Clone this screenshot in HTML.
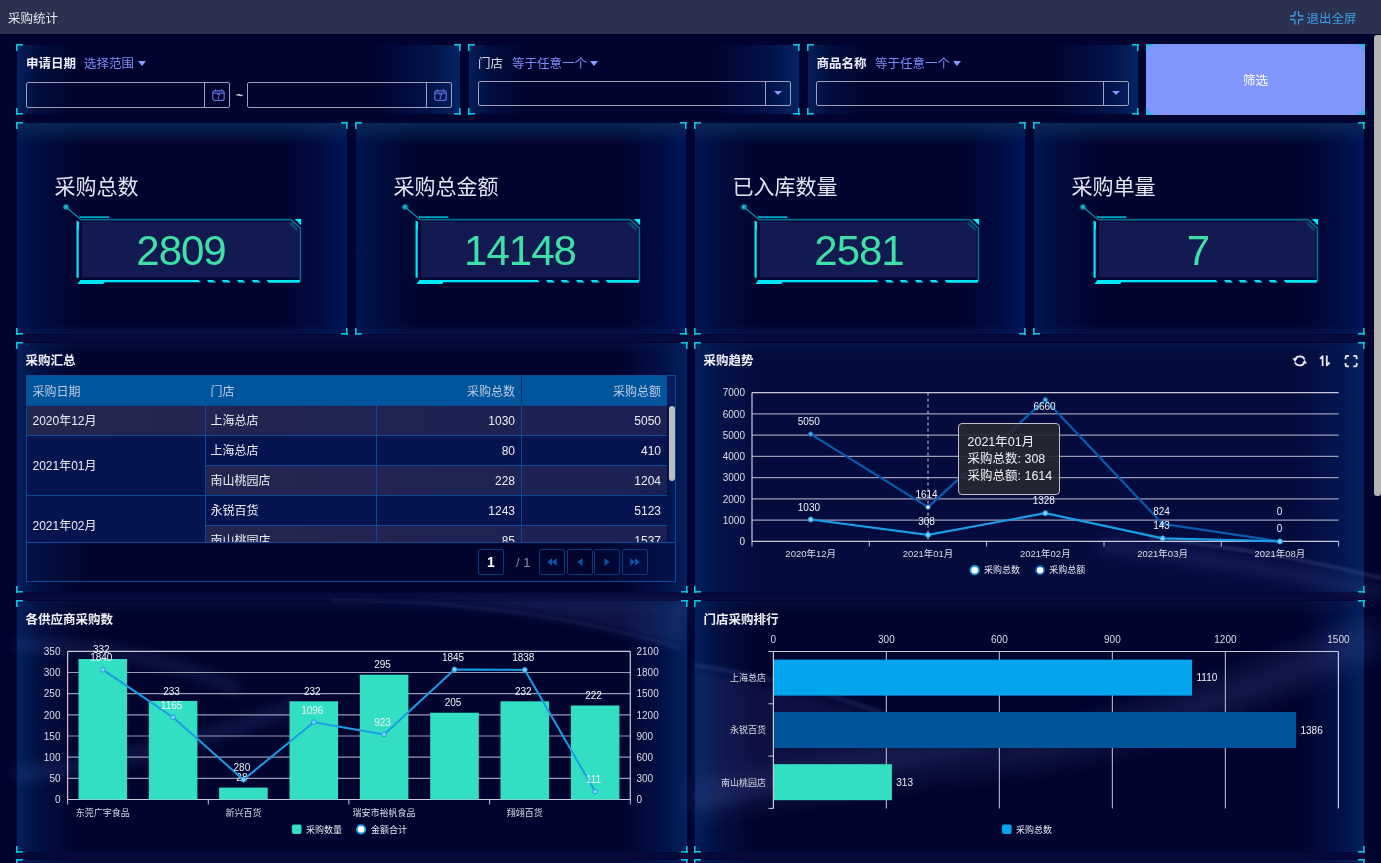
<!DOCTYPE html>
<html><head><meta charset="utf-8">
<style>
*{margin:0;padding:0;box-sizing:border-box}
html,body{width:1381px;height:863px;overflow:hidden;background:#01042f;font-family:"Liberation Sans","Noto Sans CJK SC",sans-serif;color:#fff}
.abs{position:absolute}
#hdr{position:absolute;left:0;top:0;width:1381px;height:34px;background:#2c3150}
#hdr .t{position:absolute;left:8px;top:10.5px;font-size:12.5px;line-height:16px;color:#e8e8f0}
#hdr .exit{position:absolute;left:1306.5px;top:10.5px;font-size:12.5px;line-height:16px;color:#3d9ee8}
#bgfx{position:absolute;left:0;top:34px;width:1381px;height:829px;overflow:hidden}
.panel{position:absolute;background:linear-gradient(180deg,rgba(10,42,88,.95) 0,rgba(10,42,88,0) 22px),linear-gradient(0deg,rgba(8,30,90,.6) 0,rgba(8,30,90,0) 10px),linear-gradient(90deg,#001752 0,rgba(0,23,82,.45) 25px,rgba(0,23,82,0) 65px),linear-gradient(270deg,#00165e 0,rgba(0,22,94,.45) 25px,rgba(0,22,94,0) 65px),#01042f}
.panel.pf{background:linear-gradient(90deg,#04205e 0,rgba(2,26,80,.5) 20px,rgba(2,20,70,0) 60px),linear-gradient(270deg,#052566 0,rgba(3,30,96,.55) 30px,rgba(3,25,90,0) 90px),#01042e}
.panel.pc{background:linear-gradient(180deg,rgba(10,34,90,.3) 0,rgba(10,34,90,0) 14px),linear-gradient(90deg,#02205e 0,rgba(2,28,86,.5) 22px,rgba(2,23,82,0) 60px),linear-gradient(270deg,#03225e 0,rgba(3,30,96,.5) 25px,rgba(3,22,94,0) 65px),#01042e}
.panel.pc.lt{background-color:#040c3e}
.c{position:absolute;width:7px;height:7px;--k:#0ac4de}
.c.tl{left:0;top:0;background:linear-gradient(var(--k),var(--k)) 0 0/7px 1.6px no-repeat,linear-gradient(var(--k),var(--k)) 0 0/1.6px 7px no-repeat}
.c.tr{right:0;top:0;background:linear-gradient(var(--k),var(--k)) 0 0/7px 1.6px no-repeat,linear-gradient(var(--k),var(--k)) 100% 0/1.6px 7px no-repeat}
.c.bl{left:0;bottom:0;background:linear-gradient(var(--k),var(--k)) 0 100%/7px 1.6px no-repeat,linear-gradient(var(--k),var(--k)) 0 0/1.6px 7px no-repeat}
.c.br{right:0;bottom:0;background:linear-gradient(var(--k),var(--k)) 0 100%/7px 1.6px no-repeat,linear-gradient(var(--k),var(--k)) 100% 0/1.6px 7px no-repeat}
.lbl{position:absolute;font-size:12.5px;line-height:16px;font-weight:bold;color:#eef}
.sel{position:absolute;font-size:12.5px;line-height:16px;color:#7d8cf5}
.tri{display:inline-block;width:0;height:0;border-left:4.6px solid transparent;border-right:4.6px solid transparent;border-top:5.2px solid #8a9aff;vertical-align:middle;margin-left:4px;position:relative;top:-1px}
.inp{position:absolute;height:26px;border:1.5px solid #a0a0b8;border-radius:2px}
.inp .ddt{position:absolute;left:294.5px;top:8.5px;width:0;height:0;border-left:4.2px solid transparent;border-right:4.2px solid transparent;border-top:4.5px solid #8a96ff}
.inp .dv{position:absolute;top:0;bottom:0;width:1px;background:#a0a0b8}
.kt{position:absolute;font-size:21px;line-height:24px;color:#e4e4ee}
.kn{position:absolute;font-size:42px;line-height:44px;color:#3ee0a6;text-align:center;letter-spacing:-1px}
.ptitle{position:absolute;font-size:12.5px;line-height:17px;font-weight:bold;color:#f0f0f8}
#tbl{position:absolute;left:10px;top:33px;width:650px;height:207px;border:1px solid #0a4a96;overflow:hidden;font-size:12px}
#tbl .th{position:absolute;top:0;height:29px;background:#00559c}
#tbl .thg{position:absolute;left:640px;top:0;width:10px;height:29px;background:#0a1a5a}
#tbl .tht{position:absolute;top:7.5px;line-height:16px;color:#bfcce4}
#tbl .r{text-align:right}
#tbl .row{position:absolute;left:0;width:640px;height:30px}
#tbl .row.l{background:linear-gradient(90deg,#24264f,#1c2154)}
#tbl .row.d{background:#06154f}
#tbl .hl{position:absolute;height:1px;background:#0a4a96}
#tbl .vl{position:absolute;width:1px;background:#0a4a96}
#tbl .td{position:absolute;line-height:30px;color:#ecedf4}
#tbl .tsb{position:absolute;left:642px;top:30px;width:6px;height:75px;background:#bdbdbd;border-radius:3px}
#tbl .pg{position:absolute;left:0;top:166px;width:650px;height:40px;border-top:1px solid #0a4a96;background:linear-gradient(90deg,rgba(4,30,90,.55) 0,rgba(4,30,90,0) 70px),linear-gradient(270deg,rgba(4,30,100,.55) 0,rgba(4,30,100,0) 90px),#01042c}
#tbl .pbox{position:absolute;top:6px;width:26px;height:26px;border:1px solid #0c3a80;border-radius:2px;display:flex;align-items:center;justify-content:center;line-height:16px}
.panel>*{z-index:2}
.panel{box-shadow:inset 0 0 0 1px #020532}
#sb{position:absolute;left:1374px;top:35px;width:7px;height:461px;background:#b4b4b4;border-radius:3px 0 3px 3px}
</style></head><body>
<div class="abs" style="left:16px;top:335px;width:1349px;height:7px;background:#050b3c"></div>
<div class="abs" style="left:16px;top:593px;width:1349px;height:7px;background:#050a3a"></div>
<div class="abs" style="left:16px;top:853px;width:1349px;height:6px;background:#050a3a"></div>
<div id="hdr"><div class="t">采购统计</div><svg width="14" height="14" viewBox="0 0 14 14" style="position:absolute;left:1289.5px;top:10.5px" fill="none" stroke="#3d9be6" stroke-width="1.3"><path d="M0,5 H3 Q5,5 5,3 V0"/><path d="M13.5,5 H10.5 Q8.5,5 8.5,3 V0"/><path d="M0,8.5 H3 Q5,8.5 5,10.5 V13.5"/><path d="M13.5,8.5 H10.5 Q8.5,8.5 8.5,10.5 V13.5"/></svg><div class="exit">退出全屏</div></div>

<!-- filter row -->
<div class="panel pf" style="left:16px;top:44px;width:445px;height:71px">
  <div class="c tl"></div><div class="c tr"></div><div class="c bl"></div><div class="c br"></div>
  <div class="lbl" style="left:10px;top:11.5px">申请日期</div>
  <div class="sel" style="left:68px;top:11.5px">选择范围<span class="tri"></span></div>
  <div class="inp" style="left:10px;top:38px;width:204px"><div class="dv" style="left:177px"></div><svg class="cal" width="13" height="12" viewBox="0 0 13 12" style="position:absolute;left:185px;top:6px"><rect x="0.8" y="1.8" width="11.4" height="9.6" rx="2" fill="none" stroke="#5f6fd8" stroke-width="1.2"/><line x1="0.8" y1="4.2" x2="12.2" y2="4.2" stroke="#5f6fd8" stroke-width="1.2"/><line x1="3.5" y1="0.3" x2="3.5" y2="2.5" stroke="#5f6fd8" stroke-width="1.2"/><line x1="9.5" y1="0.3" x2="9.5" y2="2.5" stroke="#5f6fd8" stroke-width="1.2"/><text x="6.5" y="10.2" font-size="6.5" font-weight="bold" fill="#6a7ae0" text-anchor="middle" font-family="Liberation Sans, sans-serif">7</text></svg></div>
  <div class="abs" style="left:220px;top:44.5px;font-size:12px;font-weight:bold;color:#ddd">~</div>
  <div class="inp" style="left:231px;top:38px;width:205px"><div class="dv" style="left:178px"></div><svg class="cal" width="13" height="12" viewBox="0 0 13 12" style="position:absolute;left:185.5px;top:6px"><rect x="0.8" y="1.8" width="11.4" height="9.6" rx="2" fill="none" stroke="#5f6fd8" stroke-width="1.2"/><line x1="0.8" y1="4.2" x2="12.2" y2="4.2" stroke="#5f6fd8" stroke-width="1.2"/><line x1="3.5" y1="0.3" x2="3.5" y2="2.5" stroke="#5f6fd8" stroke-width="1.2"/><line x1="9.5" y1="0.3" x2="9.5" y2="2.5" stroke="#5f6fd8" stroke-width="1.2"/><text x="6.5" y="10.2" font-size="6.5" font-weight="bold" fill="#6a7ae0" text-anchor="middle" font-family="Liberation Sans, sans-serif">7</text></svg></div>
</div>
<div class="panel pf" style="left:468px;top:44px;width:332px;height:71px">
  <div class="c tl"></div><div class="c tr"></div><div class="c bl"></div><div class="c br"></div>
  <div class="lbl" style="left:10px;top:11.5px;font-weight:normal;color:#dcdce8">门店</div>
  <div class="sel" style="left:44px;top:11.5px">等于任意一个<span class="tri" style="margin-left:3px"></span></div>
  <div class="inp" style="left:10px;top:37px;width:313px;height:25px"><div class="dv" style="left:286px"></div><div class="ddt"></div></div>
</div>
<div class="panel pf" style="left:807px;top:44px;width:332px;height:71px">
  <div class="c tl"></div><div class="c tr"></div><div class="c bl"></div><div class="c br"></div>
  <div class="lbl" style="left:9.5px;top:11.5px">商品名称</div>
  <div class="sel" style="left:68px;top:11.5px">等于任意一个<span class="tri" style="margin-left:3px"></span></div>
  <div class="inp" style="left:9px;top:37px;width:313px;height:25px"><div class="dv" style="left:286px"></div><div class="ddt"></div></div>
</div>
<div class="abs" style="left:1146px;top:44px;width:219px;height:71px;background:#8195ff">
  <div class="c tl"></div><div class="c tr"></div><div class="c bl"></div><div class="c br"></div>
  <div class="abs" style="left:0;width:219px;top:28.5px;text-align:center;font-size:12.5px;line-height:17px;color:#fff">筛选</div>
</div>

<!-- KPI row -->
<div class="panel" style="left:16px;top:122px;width:332px;height:213px">
  <div class="c tl"></div><div class="c tr"></div><div class="c bl"></div><div class="c br"></div>
  <svg class="kd" width="332" height="213" viewBox="0 0 332 213" style="position:absolute;left:0;top:0">
<circle cx="50" cy="85" r="2.8" fill="#0796ae"/><circle cx="50" cy="85" r="1.1" fill="#20f0ff"/>
<line x1="50" y1="85" x2="65" y2="97.6" stroke="#0a9ab4" stroke-width="1.1"/>
<polygon points="63,93.3 64.9,94.2 93,94.2 93.6,96 64.5,96" fill="#00a8c2"/>
<polygon points="65.7,99.4 273.8,99.4 282.6,107.6 282.6,155.5 65.7,155.5" fill="#131a52"/>
<polyline points="64.9,97.6 274.8,97.6 284.4,106.2 284.4,158.6" fill="none" stroke="#00708f" stroke-width="1.6"/>
<line x1="274.5" y1="100.2" x2="281.8" y2="107" stroke="#0a86a6" stroke-width="0.8"/>
<line x1="273.8" y1="101.6" x2="280.8" y2="108.2" stroke="#0a86a6" stroke-width="0.8"/>
<polygon points="278.8,97 285.1,97 285.1,103.2" fill="#00f0ff"/>
<polygon points="60.5,98.6 63,99.8 63,107 62.7,107 62.7,155.8 60.5,155.8" fill="#00e8f8"/>
<polygon points="64.4,158 182.7,158 184.9,160.2 88.3,160.2 87.3,161.9 61.4,161.9" fill="#00e8f8"/>
<polygon points="191,158 197,158 200.1,160.4 192.7,160.4" fill="#00e8f8"/>
<polygon points="205.7,158 211.8,158 214.9,160.4 207.4,160.4" fill="#00e8f8"/>
<polygon points="221,158 226.6,158 229.7,160.4 222.7,160.4" fill="#00e8f8"/>
<polygon points="235.7,158 241.8,158 244.9,160.4 237.4,160.4" fill="#00e8f8"/>
<polygon points="250.5,158 284.6,158 283.6,160.8 252.7,160.8" fill="#00e8f8"/>
</svg>
  <div class="kt" style="left:38.5px;top:52.5px">采购总数</div>
  <div class="kn" style="left:-1px;width:332px;top:106.5px">2809</div>
</div>
<div class="panel" style="left:355px;top:122px;width:332px;height:213px">
  <div class="c tl"></div><div class="c tr"></div><div class="c bl"></div><div class="c br"></div>
  <svg class="kd" width="332" height="213" viewBox="0 0 332 213" style="position:absolute;left:0;top:0">
<circle cx="50" cy="85" r="2.8" fill="#0796ae"/><circle cx="50" cy="85" r="1.1" fill="#20f0ff"/>
<line x1="50" y1="85" x2="65" y2="97.6" stroke="#0a9ab4" stroke-width="1.1"/>
<polygon points="63,93.3 64.9,94.2 93,94.2 93.6,96 64.5,96" fill="#00a8c2"/>
<polygon points="65.7,99.4 273.8,99.4 282.6,107.6 282.6,155.5 65.7,155.5" fill="#131a52"/>
<polyline points="64.9,97.6 274.8,97.6 284.4,106.2 284.4,158.6" fill="none" stroke="#00708f" stroke-width="1.6"/>
<line x1="274.5" y1="100.2" x2="281.8" y2="107" stroke="#0a86a6" stroke-width="0.8"/>
<line x1="273.8" y1="101.6" x2="280.8" y2="108.2" stroke="#0a86a6" stroke-width="0.8"/>
<polygon points="278.8,97 285.1,97 285.1,103.2" fill="#00f0ff"/>
<polygon points="60.5,98.6 63,99.8 63,107 62.7,107 62.7,155.8 60.5,155.8" fill="#00e8f8"/>
<polygon points="64.4,158 182.7,158 184.9,160.2 88.3,160.2 87.3,161.9 61.4,161.9" fill="#00e8f8"/>
<polygon points="191,158 197,158 200.1,160.4 192.7,160.4" fill="#00e8f8"/>
<polygon points="205.7,158 211.8,158 214.9,160.4 207.4,160.4" fill="#00e8f8"/>
<polygon points="221,158 226.6,158 229.7,160.4 222.7,160.4" fill="#00e8f8"/>
<polygon points="235.7,158 241.8,158 244.9,160.4 237.4,160.4" fill="#00e8f8"/>
<polygon points="250.5,158 284.6,158 283.6,160.8 252.7,160.8" fill="#00e8f8"/>
</svg>
  <div class="kt" style="left:38.5px;top:52.5px">采购总金额</div>
  <div class="kn" style="left:-1px;width:332px;top:106.5px">14148</div>
</div>
<div class="panel" style="left:694px;top:122px;width:332px;height:213px">
  <div class="c tl"></div><div class="c tr"></div><div class="c bl"></div><div class="c br"></div>
  <svg class="kd" width="332" height="213" viewBox="0 0 332 213" style="position:absolute;left:0;top:0">
<circle cx="50" cy="85" r="2.8" fill="#0796ae"/><circle cx="50" cy="85" r="1.1" fill="#20f0ff"/>
<line x1="50" y1="85" x2="65" y2="97.6" stroke="#0a9ab4" stroke-width="1.1"/>
<polygon points="63,93.3 64.9,94.2 93,94.2 93.6,96 64.5,96" fill="#00a8c2"/>
<polygon points="65.7,99.4 273.8,99.4 282.6,107.6 282.6,155.5 65.7,155.5" fill="#131a52"/>
<polyline points="64.9,97.6 274.8,97.6 284.4,106.2 284.4,158.6" fill="none" stroke="#00708f" stroke-width="1.6"/>
<line x1="274.5" y1="100.2" x2="281.8" y2="107" stroke="#0a86a6" stroke-width="0.8"/>
<line x1="273.8" y1="101.6" x2="280.8" y2="108.2" stroke="#0a86a6" stroke-width="0.8"/>
<polygon points="278.8,97 285.1,97 285.1,103.2" fill="#00f0ff"/>
<polygon points="60.5,98.6 63,99.8 63,107 62.7,107 62.7,155.8 60.5,155.8" fill="#00e8f8"/>
<polygon points="64.4,158 182.7,158 184.9,160.2 88.3,160.2 87.3,161.9 61.4,161.9" fill="#00e8f8"/>
<polygon points="191,158 197,158 200.1,160.4 192.7,160.4" fill="#00e8f8"/>
<polygon points="205.7,158 211.8,158 214.9,160.4 207.4,160.4" fill="#00e8f8"/>
<polygon points="221,158 226.6,158 229.7,160.4 222.7,160.4" fill="#00e8f8"/>
<polygon points="235.7,158 241.8,158 244.9,160.4 237.4,160.4" fill="#00e8f8"/>
<polygon points="250.5,158 284.6,158 283.6,160.8 252.7,160.8" fill="#00e8f8"/>
</svg>
  <div class="kt" style="left:38.5px;top:52.5px">已入库数量</div>
  <div class="kn" style="left:-1px;width:332px;top:106.5px">2581</div>
</div>
<div class="panel" style="left:1033px;top:122px;width:332px;height:213px">
  <div class="c tl"></div><div class="c tr"></div><div class="c bl"></div><div class="c br"></div>
  <svg class="kd" width="332" height="213" viewBox="0 0 332 213" style="position:absolute;left:0;top:0">
<circle cx="50" cy="85" r="2.8" fill="#0796ae"/><circle cx="50" cy="85" r="1.1" fill="#20f0ff"/>
<line x1="50" y1="85" x2="65" y2="97.6" stroke="#0a9ab4" stroke-width="1.1"/>
<polygon points="63,93.3 64.9,94.2 93,94.2 93.6,96 64.5,96" fill="#00a8c2"/>
<polygon points="65.7,99.4 273.8,99.4 282.6,107.6 282.6,155.5 65.7,155.5" fill="#131a52"/>
<polyline points="64.9,97.6 274.8,97.6 284.4,106.2 284.4,158.6" fill="none" stroke="#00708f" stroke-width="1.6"/>
<line x1="274.5" y1="100.2" x2="281.8" y2="107" stroke="#0a86a6" stroke-width="0.8"/>
<line x1="273.8" y1="101.6" x2="280.8" y2="108.2" stroke="#0a86a6" stroke-width="0.8"/>
<polygon points="278.8,97 285.1,97 285.1,103.2" fill="#00f0ff"/>
<polygon points="60.5,98.6 63,99.8 63,107 62.7,107 62.7,155.8 60.5,155.8" fill="#00e8f8"/>
<polygon points="64.4,158 182.7,158 184.9,160.2 88.3,160.2 87.3,161.9 61.4,161.9" fill="#00e8f8"/>
<polygon points="191,158 197,158 200.1,160.4 192.7,160.4" fill="#00e8f8"/>
<polygon points="205.7,158 211.8,158 214.9,160.4 207.4,160.4" fill="#00e8f8"/>
<polygon points="221,158 226.6,158 229.7,160.4 222.7,160.4" fill="#00e8f8"/>
<polygon points="235.7,158 241.8,158 244.9,160.4 237.4,160.4" fill="#00e8f8"/>
<polygon points="250.5,158 284.6,158 283.6,160.8 252.7,160.8" fill="#00e8f8"/>
</svg>
  <div class="kt" style="left:38.5px;top:52.5px">采购单量</div>
  <div class="kn" style="left:-1px;width:332px;top:106.5px">7</div>
</div>

<!-- middle row -->
<div class="panel pc" style="left:16px;top:342px;width:672px;height:251px">
  <div class="c tl"></div><div class="c tr"></div><div class="c bl"></div><div class="c br"></div>
  <div class="ptitle" style="left:9.5px;top:11px">采购汇总</div>
  <div id="tbl">
    <div class="th" style="left:0;width:640px"></div>
    <div class="thg"></div>
    <div class="tht" style="left:5.5px">采购日期</div>
    <div class="tht" style="left:183.5px">门店</div>
    <div class="tht r" style="left:350px;width:138px">采购总数</div>
    <div class="tht r" style="left:496px;width:138px">采购总额</div>
    <div class="vl" style="left:494px;top:0;height:29px;background:#0a2f6e"></div>
    <div style="position:absolute;left:0;top:0;width:650px;height:166px;overflow:hidden">
    <!-- body rows -->
    <div class="row l" style="top:30px"></div>
    <div class="row d" style="top:60px;height:60px;width:178px"></div>
    <div class="row d" style="top:60px;left:178px;width:462px"></div>
    <div class="row l" style="top:90px;left:178px;width:462px"></div>
    <div class="row d" style="top:120px;height:60px;width:178px"></div>
    <div class="row d" style="top:120px;left:178px;width:462px"></div>
    <div class="row l" style="top:150px;left:178px;width:462px"></div>
    <div class="hl" style="top:29px;left:0;width:640px"></div>
    <div class="hl" style="top:59px;left:0;width:640px"></div>
    <div class="hl" style="top:89px;left:178px;width:462px"></div>
    <div class="hl" style="top:119px;left:0;width:640px"></div>
    <div class="hl" style="top:149px;left:178px;width:462px"></div>
    <div class="vl" style="left:178px;top:30px;height:137px"></div>
    <div class="vl" style="left:349px;top:30px;height:137px"></div>
    <div class="vl" style="left:494px;top:30px;height:137px"></div>
    <div class="td" style="left:5.5px;top:30px">2020年12月</div>
    <div class="td" style="left:183.5px;top:30px">上海总店</div>
    <div class="td r" style="left:350px;width:138px;top:30px">1030</div>
    <div class="td r" style="left:496px;width:138px;top:30px">5050</div>
    <div class="td" style="left:5.5px;top:75px">2021年01月</div>
    <div class="td" style="left:183.5px;top:60px">上海总店</div>
    <div class="td r" style="left:350px;width:138px;top:60px">80</div>
    <div class="td r" style="left:496px;width:138px;top:60px">410</div>
    <div class="td" style="left:183.5px;top:90px">南山桃园店</div>
    <div class="td r" style="left:350px;width:138px;top:90px">228</div>
    <div class="td r" style="left:496px;width:138px;top:90px">1204</div>
    <div class="td" style="left:5.5px;top:135px">2021年02月</div>
    <div class="td" style="left:183.5px;top:120px">永锐百货</div>
    <div class="td r" style="left:350px;width:138px;top:120px">1243</div>
    <div class="td r" style="left:496px;width:138px;top:120px">5123</div>
    <div class="td" style="left:183.5px;top:150px">南山桃园店</div>
    <div class="td r" style="left:350px;width:138px;top:150px">85</div>
    <div class="td r" style="left:496px;width:138px;top:150px">1537</div>
    </div>
    <div class="tsb"></div>
    <div class="pg">
      <div class="pbox" style="left:451px;top:6px;width:26px;font-weight:bold;color:#fff;font-size:14px">1</div>
      <div class="abs" style="left:489px;top:12px;font-size:13px;line-height:16px;color:#8a8ea8">/ 1</div>
      <div class="pbox" style="left:512px"><svg width="10" height="8" viewBox="0 0 10 8"><polygon points="5,0 5,8 0.3,4" fill="#0a55a8"/><polygon points="9.7,0 9.7,8 5,4" fill="#0a55a8"/></svg></div>
      <div class="pbox" style="left:539.5px"><svg width="6" height="8" viewBox="0 0 6 8"><polygon points="5.5,0 5.5,8 0.5,4" fill="#0a55a8"/></svg></div>
      <div class="pbox" style="left:567px"><svg width="6" height="8" viewBox="0 0 6 8"><polygon points="0.5,0 0.5,8 5.5,4" fill="#0a55a8"/></svg></div>
      <div class="pbox" style="left:594.5px"><svg width="10" height="8" viewBox="0 0 10 8"><polygon points="0.3,0 0.3,8 5,4" fill="#0a55a8"/><polygon points="5,0 5,8 9.7,4" fill="#0a55a8"/></svg></div>
    </div>
  </div>
</div>
<div class="panel pc lt" style="left:694px;top:342px;width:671px;height:251px">
  <div class="c tl"></div><div class="c tr"></div><div class="c bl"></div><div class="c br"></div>
  <div class="ptitle" style="left:9.5px;top:11px">采购趋势</div>
<svg width="671" height="251" viewBox="694 342 671 251" style="position:absolute;left:0;top:0" font-family="Liberation Sans, Noto Sans CJK SC, sans-serif">
<line x1="752.0" y1="541.4" x2="1338.6" y2="541.4" stroke="#c9cadb" stroke-width="1.2"/>
<text x="745" y="545.0" font-size="10" fill="#dcdce6" text-anchor="end">0</text>
<line x1="752.0" y1="520.1" x2="1338.6" y2="520.1" stroke="#9a9cb8" stroke-width="1.2"/>
<text x="745" y="523.7" font-size="10" fill="#dcdce6" text-anchor="end">1000</text>
<line x1="752.0" y1="498.9" x2="1338.6" y2="498.9" stroke="#9a9cb8" stroke-width="1.2"/>
<text x="745" y="502.5" font-size="10" fill="#dcdce6" text-anchor="end">2000</text>
<line x1="752.0" y1="477.6" x2="1338.6" y2="477.6" stroke="#9a9cb8" stroke-width="1.2"/>
<text x="745" y="481.2" font-size="10" fill="#dcdce6" text-anchor="end">3000</text>
<line x1="752.0" y1="456.4" x2="1338.6" y2="456.4" stroke="#9a9cb8" stroke-width="1.2"/>
<text x="745" y="460.0" font-size="10" fill="#dcdce6" text-anchor="end">4000</text>
<line x1="752.0" y1="435.1" x2="1338.6" y2="435.1" stroke="#9a9cb8" stroke-width="1.2"/>
<text x="745" y="438.7" font-size="10" fill="#dcdce6" text-anchor="end">5000</text>
<line x1="752.0" y1="413.9" x2="1338.6" y2="413.9" stroke="#9a9cb8" stroke-width="1.2"/>
<text x="745" y="417.5" font-size="10" fill="#dcdce6" text-anchor="end">6000</text>
<line x1="752.0" y1="392.6" x2="1338.6" y2="392.6" stroke="#c9cadb" stroke-width="1.2"/>
<text x="745" y="396.2" font-size="10" fill="#dcdce6" text-anchor="end">7000</text>
<line x1="752.0" y1="392.6" x2="752.0" y2="541.4" stroke="#c9cadb" stroke-width="1.2"/>
<line x1="752.0" y1="541.4" x2="752.0" y2="546.4" stroke="#c9cadb" stroke-width="1"/>
<line x1="869.3" y1="541.4" x2="869.3" y2="546.4" stroke="#c9cadb" stroke-width="1"/>
<line x1="986.6" y1="541.4" x2="986.6" y2="546.4" stroke="#c9cadb" stroke-width="1"/>
<line x1="1104.0" y1="541.4" x2="1104.0" y2="546.4" stroke="#c9cadb" stroke-width="1"/>
<line x1="1221.3" y1="541.4" x2="1221.3" y2="546.4" stroke="#c9cadb" stroke-width="1"/>
<line x1="1338.6" y1="541.4" x2="1338.6" y2="546.4" stroke="#c9cadb" stroke-width="1"/>
<text x="810.7" y="557" font-size="9.5" fill="#dcdce6" text-anchor="middle">2020年12月</text>
<text x="928.0" y="557" font-size="9.5" fill="#dcdce6" text-anchor="middle">2021年01月</text>
<text x="1045.3" y="557" font-size="9.5" fill="#dcdce6" text-anchor="middle">2021年02月</text>
<text x="1162.6" y="557" font-size="9.5" fill="#dcdce6" text-anchor="middle">2021年03月</text>
<text x="1279.9" y="557" font-size="9.5" fill="#dcdce6" text-anchor="middle">2021年08月</text>
<line x1="928.0" y1="392.6" x2="928.0" y2="541.4" stroke="#c8c8d8" stroke-width="1" stroke-dasharray="3,3"/>
<polyline points="810.7,434.1 928.0,507.1 1045.3,399.8 1162.6,523.9 1279.9,541.4" fill="none" stroke="#085cae" stroke-width="2.2" stroke-linejoin="round"/>
<polyline points="810.7,519.5 928.0,534.9 1045.3,513.2 1162.6,538.4 1279.9,541.4" fill="none" stroke="#1a9de6" stroke-width="2.2" stroke-linejoin="round"/>
<circle cx="810.7" cy="434.1" r="2.3" fill="#5aa8e6" stroke="#085cae" stroke-width="1"/>
<circle cx="928.0" cy="507.1" r="2.3" fill="#ffffff" stroke="#085cae" stroke-width="1"/>
<circle cx="1045.3" cy="399.8" r="2.3" fill="#5aa8e6" stroke="#085cae" stroke-width="1"/>
<circle cx="1162.6" cy="523.9" r="2.3" fill="#5aa8e6" stroke="#085cae" stroke-width="1"/>
<circle cx="1279.9" cy="541.4" r="2.3" fill="#5aa8e6" stroke="#085cae" stroke-width="1"/>
<circle cx="810.7" cy="519.5" r="2.5" fill="#7fd0ff" stroke="#1a9de6" stroke-width="1"/>
<circle cx="928.0" cy="534.9" r="2.5" fill="#7fd0ff" stroke="#1a9de6" stroke-width="1"/>
<circle cx="1045.3" cy="513.2" r="2.5" fill="#7fd0ff" stroke="#1a9de6" stroke-width="1"/>
<circle cx="1162.6" cy="538.4" r="2.5" fill="#7fd0ff" stroke="#1a9de6" stroke-width="1"/>
<circle cx="1279.9" cy="541.4" r="2.5" fill="#7fd0ff" stroke="#1a9de6" stroke-width="1"/>
<text x="808.8" y="425.3" font-size="10" fill="#f0f0f6" text-anchor="middle">5050</text>
<text x="926.5" y="498.4" font-size="10" fill="#f0f0f6" text-anchor="middle">1614</text>
<text x="1044.5" y="410.1" font-size="10" fill="#f0f0f6" text-anchor="middle">6660</text>
<text x="1161.5" y="515.2" font-size="10" fill="#f0f0f6" text-anchor="middle">824</text>
<text x="1279.5" y="515.2" font-size="10" fill="#f0f0f6" text-anchor="middle">0</text>
<text x="808.9" y="510.8" font-size="10" fill="#f0f0f6" text-anchor="middle">1030</text>
<text x="926.5" y="525.3" font-size="10" fill="#f0f0f6" text-anchor="middle">308</text>
<text x="1043.8" y="504.2" font-size="10" fill="#f0f0f6" text-anchor="middle">1328</text>
<text x="1161.5" y="528.7" font-size="10" fill="#f0f0f6" text-anchor="middle">143</text>
<text x="1279.5" y="531.7" font-size="10" fill="#f0f0f6" text-anchor="middle">0</text>
<circle cx="974.7" cy="570.2" r="4.2" fill="#fff" stroke="#1a9de6" stroke-width="1.8"/>
<text x="984" y="573.4" font-size="9" fill="#e8e8f0">采购总数</text>
<circle cx="1040.1" cy="570.2" r="4.2" fill="#fff" stroke="#085cae" stroke-width="1.8"/>
<text x="1049.3" y="573.4" font-size="9" fill="#e8e8f0">采购总额</text>
<g fill="none" stroke="#ececf4" stroke-width="1.7">
<path d="M1295.2,359.2 A5,4.6 0 0 1 1304.6,359.6"/><path d="M1304.4,362.6 A5,4.6 0 0 1 1295,362.2"/>
</g>
<polygon points="1292.6,358.2 1297.6,358.2 1294.9,362" fill="#ececf4"/>
<polygon points="1302.2,363.6 1307,363.6 1304.7,359.8" fill="#ececf4"/>
<g stroke="#ececf4" stroke-width="1.8" fill="none" stroke-linejoin="round">
<path d="M1322.6,366 V356.2 L1320,358.8"/><path d="M1326.8,355.5 V365.3 L1329.6,362.5"/>
</g>
<g stroke="#ececf4" stroke-width="1.8" fill="none" stroke-linejoin="round">
<path d="M1345.6,359.2 V357.2 Q1345.6,355.8 1347,355.8 H1349"/><path d="M1353.3,355.8 H1355.3 Q1356.7,355.8 1356.7,357.2 V359.2"/>
<path d="M1356.7,363 V365 Q1356.7,366.4 1355.3,366.4 H1353.3"/><path d="M1349,366.4 H1347 Q1345.6,366.4 1345.6,365 V363"/>
</g>
</svg>
<div style="position:absolute;left:264px;top:81px;width:102px;height:71.5px;background:rgba(40,40,50,.9);border:1.5px solid #c0c0c8;border-radius:4px;padding:9.5px 0 0 8.5px;font-size:12.5px;line-height:17px;color:#f0f0f4;white-space:nowrap">2021年01月<br>采购总数: 308<br>采购总额: 1614</div>
</div>

<!-- bottom row -->
<div class="panel pc" style="left:16px;top:600px;width:672px;height:253px">
  <div class="c tl"></div><div class="c tr"></div><div class="c bl"></div><div class="c br"></div>
  <div class="ptitle" style="left:9.5px;top:12px">各供应商采购数</div>
<svg width="672" height="253" viewBox="16 600 672 253" style="position:absolute;left:0;top:0" font-family="Liberation Sans, Noto Sans CJK SC, sans-serif">
<line x1="67.6" y1="799.5" x2="630.3" y2="799.5" stroke="#c9cadb" stroke-width="1.2"/>
<text x="60.5" y="803.1" font-size="10" fill="#dcdce6" text-anchor="end">0</text>
<text x="636.5" y="803.1" font-size="10" fill="#dcdce6">0</text>
<line x1="67.6" y1="778.3" x2="630.3" y2="778.3" stroke="#9a9cb8" stroke-width="1.2"/>
<text x="60.5" y="781.9" font-size="10" fill="#dcdce6" text-anchor="end">50</text>
<text x="636.5" y="781.9" font-size="10" fill="#dcdce6">300</text>
<line x1="67.6" y1="757.1" x2="630.3" y2="757.1" stroke="#9a9cb8" stroke-width="1.2"/>
<text x="60.5" y="760.8" font-size="10" fill="#dcdce6" text-anchor="end">100</text>
<text x="636.5" y="760.8" font-size="10" fill="#dcdce6">600</text>
<line x1="67.6" y1="736.0" x2="630.3" y2="736.0" stroke="#9a9cb8" stroke-width="1.2"/>
<text x="60.5" y="739.6" font-size="10" fill="#dcdce6" text-anchor="end">150</text>
<text x="636.5" y="739.6" font-size="10" fill="#dcdce6">900</text>
<line x1="67.6" y1="714.9" x2="630.3" y2="714.9" stroke="#9a9cb8" stroke-width="1.2"/>
<text x="60.5" y="718.5" font-size="10" fill="#dcdce6" text-anchor="end">200</text>
<text x="636.5" y="718.5" font-size="10" fill="#dcdce6">1200</text>
<line x1="67.6" y1="693.7" x2="630.3" y2="693.7" stroke="#9a9cb8" stroke-width="1.2"/>
<text x="60.5" y="697.3" font-size="10" fill="#dcdce6" text-anchor="end">250</text>
<text x="636.5" y="697.3" font-size="10" fill="#dcdce6">1500</text>
<line x1="67.6" y1="672.5" x2="630.3" y2="672.5" stroke="#9a9cb8" stroke-width="1.2"/>
<text x="60.5" y="676.1" font-size="10" fill="#dcdce6" text-anchor="end">300</text>
<text x="636.5" y="676.1" font-size="10" fill="#dcdce6">1800</text>
<line x1="67.6" y1="651.4" x2="630.3" y2="651.4" stroke="#c9cadb" stroke-width="1.2"/>
<text x="60.5" y="655.0" font-size="10" fill="#dcdce6" text-anchor="end">350</text>
<text x="636.5" y="655.0" font-size="10" fill="#dcdce6">2100</text>
<line x1="67.6" y1="651.4" x2="67.6" y2="799.45" stroke="#c9cadb" stroke-width="1.2"/>
<line x1="630.3" y1="651.4" x2="630.3" y2="799.45" stroke="#c9cadb" stroke-width="1.2"/>
<line x1="67.6" y1="799.45" x2="67.6" y2="804.45" stroke="#c9cadb" stroke-width="1"/>
<line x1="208.3" y1="799.45" x2="208.3" y2="804.45" stroke="#c9cadb" stroke-width="1"/>
<line x1="348.9" y1="799.45" x2="348.9" y2="804.45" stroke="#c9cadb" stroke-width="1"/>
<line x1="489.6" y1="799.45" x2="489.6" y2="804.45" stroke="#c9cadb" stroke-width="1"/>
<line x1="630.3" y1="799.45" x2="630.3" y2="804.45" stroke="#c9cadb" stroke-width="1"/>
<rect x="78.5" y="659.0" width="48.6" height="140.4" fill="#33dfc2"/>
<rect x="148.8" y="700.9" width="48.6" height="98.6" fill="#33dfc2"/>
<rect x="219.1" y="787.6" width="48.6" height="11.8" fill="#33dfc2"/>
<rect x="289.5" y="701.3" width="48.6" height="98.1" fill="#33dfc2"/>
<rect x="359.8" y="674.7" width="48.6" height="124.8" fill="#33dfc2"/>
<rect x="430.2" y="712.7" width="48.6" height="86.7" fill="#33dfc2"/>
<rect x="500.5" y="701.3" width="48.6" height="98.1" fill="#33dfc2"/>
<rect x="570.8" y="705.5" width="48.6" height="93.9" fill="#33dfc2"/>
<text x="101.3" y="652.6" font-size="10" fill="#f0f0f6" text-anchor="middle">332</text>
<text x="171.6" y="694.5" font-size="10" fill="#f0f0f6" text-anchor="middle">233</text>
<text x="241.9" y="781.2" font-size="10" fill="#f0f0f6" text-anchor="middle">28</text>
<text x="312.3" y="694.9" font-size="10" fill="#f0f0f6" text-anchor="middle">232</text>
<text x="382.6" y="668.3" font-size="10" fill="#f0f0f6" text-anchor="middle">295</text>
<text x="453.0" y="706.3" font-size="10" fill="#f0f0f6" text-anchor="middle">205</text>
<text x="523.3" y="694.9" font-size="10" fill="#f0f0f6" text-anchor="middle">232</text>
<text x="593.6" y="699.1" font-size="10" fill="#f0f0f6" text-anchor="middle">222</text>
<polyline points="102.8,669.7 173.1,717.3 243.4,779.7 313.8,722.2 384.1,734.4 454.5,669.4 524.8,669.9 595.1,791.6" fill="none" stroke="#1a9de6" stroke-width="2" stroke-linejoin="round"/>
<circle cx="102.8" cy="669.7" r="2.4" fill="#7fd0ff" stroke="#1a9de6" stroke-width="1"/>
<circle cx="173.1" cy="717.3" r="2.4" fill="#7fd0ff" stroke="#1a9de6" stroke-width="1"/>
<circle cx="243.4" cy="779.7" r="2.4" fill="#7fd0ff" stroke="#1a9de6" stroke-width="1"/>
<circle cx="313.8" cy="722.2" r="2.4" fill="#7fd0ff" stroke="#1a9de6" stroke-width="1"/>
<circle cx="384.1" cy="734.4" r="2.4" fill="#7fd0ff" stroke="#1a9de6" stroke-width="1"/>
<circle cx="454.5" cy="669.4" r="2.4" fill="#7fd0ff" stroke="#1a9de6" stroke-width="1"/>
<circle cx="524.8" cy="669.9" r="2.4" fill="#7fd0ff" stroke="#1a9de6" stroke-width="1"/>
<circle cx="595.1" cy="791.6" r="2.4" fill="#7fd0ff" stroke="#1a9de6" stroke-width="1"/>
<text x="101.3" y="661.0" font-size="10" fill="#f0f0f6" text-anchor="middle">1840</text>
<text x="171.6" y="708.6" font-size="10" fill="#f0f0f6" text-anchor="middle">1165</text>
<text x="241.9" y="771.0" font-size="10" fill="#f0f0f6" text-anchor="middle">280</text>
<text x="312.3" y="713.5" font-size="10" fill="#f0f0f6" text-anchor="middle">1096</text>
<text x="382.6" y="725.7" font-size="10" fill="#f0f0f6" text-anchor="middle">923</text>
<text x="453.0" y="660.7" font-size="10" fill="#f0f0f6" text-anchor="middle">1845</text>
<text x="523.3" y="661.2" font-size="10" fill="#f0f0f6" text-anchor="middle">1838</text>
<text x="593.6" y="782.9" font-size="10" fill="#f0f0f6" text-anchor="middle">111</text>
<text x="102.8" y="815.5" font-size="9" fill="#dcdce6" text-anchor="middle">东莞广宇食品</text>
<text x="243.4" y="815.5" font-size="9" fill="#dcdce6" text-anchor="middle">新兴百货</text>
<text x="384.1" y="815.5" font-size="9" fill="#dcdce6" text-anchor="middle">瑞安市裕帆食品</text>
<text x="524.8" y="815.5" font-size="9" fill="#dcdce6" text-anchor="middle">翔翊百货</text>
<rect x="291.9" y="824.4" width="9.6" height="9.6" rx="2" fill="#33dfc2"/>
<text x="306" y="832.6" font-size="9" fill="#e8e8f0">采购数量</text>
<circle cx="361.1" cy="829.3" r="4.2" fill="#fff" stroke="#1a9de6" stroke-width="1.8"/>
<text x="371" y="832.6" font-size="9" fill="#e8e8f0">金额合计</text>
</svg>
</div>
<div class="panel pc" style="left:694px;top:600px;width:671px;height:253px">
  <div class="c tl"></div><div class="c tr"></div><div class="c bl"></div><div class="c br"></div>
  <div class="ptitle" style="left:9.5px;top:12px">门店采购排行</div>
<svg width="671" height="253" viewBox="694 600 671 253" style="position:absolute;left:0;top:0" font-family="Liberation Sans, Noto Sans CJK SC, sans-serif">
<line x1="773.4" y1="651.5" x2="773.4" y2="808.4" stroke="#c9cadb" stroke-width="1.2"/>
<text x="773.4" y="643" font-size="10" fill="#dcdce6" text-anchor="middle">0</text>
<line x1="886.4" y1="651.5" x2="886.4" y2="808.4" stroke="#a5a7c2" stroke-width="1.2"/>
<text x="886.4" y="643" font-size="10" fill="#dcdce6" text-anchor="middle">300</text>
<line x1="999.4" y1="651.5" x2="999.4" y2="808.4" stroke="#a5a7c2" stroke-width="1.2"/>
<text x="999.4" y="643" font-size="10" fill="#dcdce6" text-anchor="middle">600</text>
<line x1="1112.4" y1="651.5" x2="1112.4" y2="808.4" stroke="#a5a7c2" stroke-width="1.2"/>
<text x="1112.4" y="643" font-size="10" fill="#dcdce6" text-anchor="middle">900</text>
<line x1="1225.4" y1="651.5" x2="1225.4" y2="808.4" stroke="#a5a7c2" stroke-width="1.2"/>
<text x="1225.4" y="643" font-size="10" fill="#dcdce6" text-anchor="middle">1200</text>
<line x1="1338.4" y1="651.5" x2="1338.4" y2="808.4" stroke="#c9cadb" stroke-width="1.2"/>
<text x="1338.4" y="643" font-size="10" fill="#dcdce6" text-anchor="middle">1500</text>
<line x1="773.4" y1="651.5" x2="1338.4" y2="651.5" stroke="#c9cadb" stroke-width="1.2"/>
<line x1="768.4" y1="651.5" x2="773.4" y2="651.5" stroke="#c9cadb" stroke-width="1"/>
<line x1="768.4" y1="703.8" x2="773.4" y2="703.8" stroke="#c9cadb" stroke-width="1"/>
<line x1="768.4" y1="756.1" x2="773.4" y2="756.1" stroke="#c9cadb" stroke-width="1"/>
<line x1="768.4" y1="808.4" x2="773.4" y2="808.4" stroke="#c9cadb" stroke-width="1"/>
<rect x="774.0" y="659.6" width="418.1" height="36" fill="#00a5ee"/>
<text x="1196.5" y="681.2" font-size="10" fill="#f0f0f6">1110</text>
<text x="766" y="680.9" font-size="9" fill="#dcdce6" text-anchor="end">上海总店</text>
<rect x="774.0" y="712.0" width="522.1" height="36" fill="#00559a"/>
<text x="1300.5" y="733.6" font-size="10" fill="#f0f0f6">1386</text>
<text x="766" y="733.2" font-size="9" fill="#dcdce6" text-anchor="end">永锐百货</text>
<rect x="774.0" y="764.2" width="117.9" height="36" fill="#33dfc2"/>
<text x="896.3" y="785.9" font-size="10" fill="#f0f0f6">313</text>
<text x="766" y="785.5" font-size="9" fill="#dcdce6" text-anchor="end">南山桃园店</text>
<rect x="1002" y="824.4" width="9.6" height="9.6" rx="2" fill="#00a5ee"/>
<text x="1016" y="832.6" font-size="9" fill="#e8e8f0">采购总数</text>
</svg>
</div>

<!-- next row (cut) -->
<div class="panel pc" style="left:16px;top:859px;width:672px;height:60px">
  <div class="c tl"></div><div class="c tr"></div>
</div>
<div class="panel pc" style="left:694px;top:859px;width:671px;height:60px">
  <div class="c tl"></div><div class="c tr"></div>
</div>

<svg id="fx" width="1381" height="863" viewBox="0 0 1381 863" style="position:absolute;left:0;top:0;pointer-events:none;mix-blend-mode:screen;z-index:1">
<defs>
<filter id="b6" x="-20%" y="-50%" width="140%" height="200%"><feGaussianBlur stdDeviation="6"/></filter>
<filter id="b2" x="-20%" y="-50%" width="140%" height="200%"><feGaussianBlur stdDeviation="1.6"/></filter>
<filter id="b12" x="-20%" y="-50%" width="140%" height="200%"><feGaussianBlur stdDeviation="12"/></filter>
</defs>
<path d="M330,598 Q520,598 680,648 L690,600 Z" fill="rgba(90,110,190,.16)" filter="url(#b6)"/>
<path d="M330,600 Q520,600 680,648" fill="none" stroke="rgba(140,150,220,.18)" stroke-width="1.5" filter="url(#b2)"/>
<path d="M16,645 Q120,640 240,690" fill="none" stroke="rgba(110,130,210,.16)" stroke-width="10" filter="url(#b6)"/>
<path d="M16,775 Q150,760 300,705" fill="none" stroke="rgba(110,130,210,.14)" stroke-width="14" filter="url(#b6)"/>
<path d="M694,665 Q800,680 900,720" fill="none" stroke="rgba(120,130,210,.16)" stroke-width="4" filter="url(#b2)"/>
<path d="M694,800 Q850,770 1000,755 T1365,640" fill="none" stroke="rgba(110,120,200,.14)" stroke-width="28" filter="url(#b12)"/>
<path d="M694,668 Q800,690 1000,748 Q850,770 694,812 Z" fill="rgba(100,100,185,.13)" filter="url(#b6)"/>
<path d="M1000,748 Q1200,690 1381,615 L1381,650 Q1200,720 1000,760 Z" fill="rgba(90,100,180,.08)" filter="url(#b12)"/>
<path d="M1150,538 Q1280,552 1381,578" fill="none" stroke="rgba(170,175,230,.22)" stroke-width="2.5" filter="url(#b2)"/>
<path d="M1100,545 Q1260,565 1381,592" fill="none" stroke="rgba(120,130,210,.12)" stroke-width="14" filter="url(#b6)"/>
</svg>
<div id="sb"></div>
</body></html>
